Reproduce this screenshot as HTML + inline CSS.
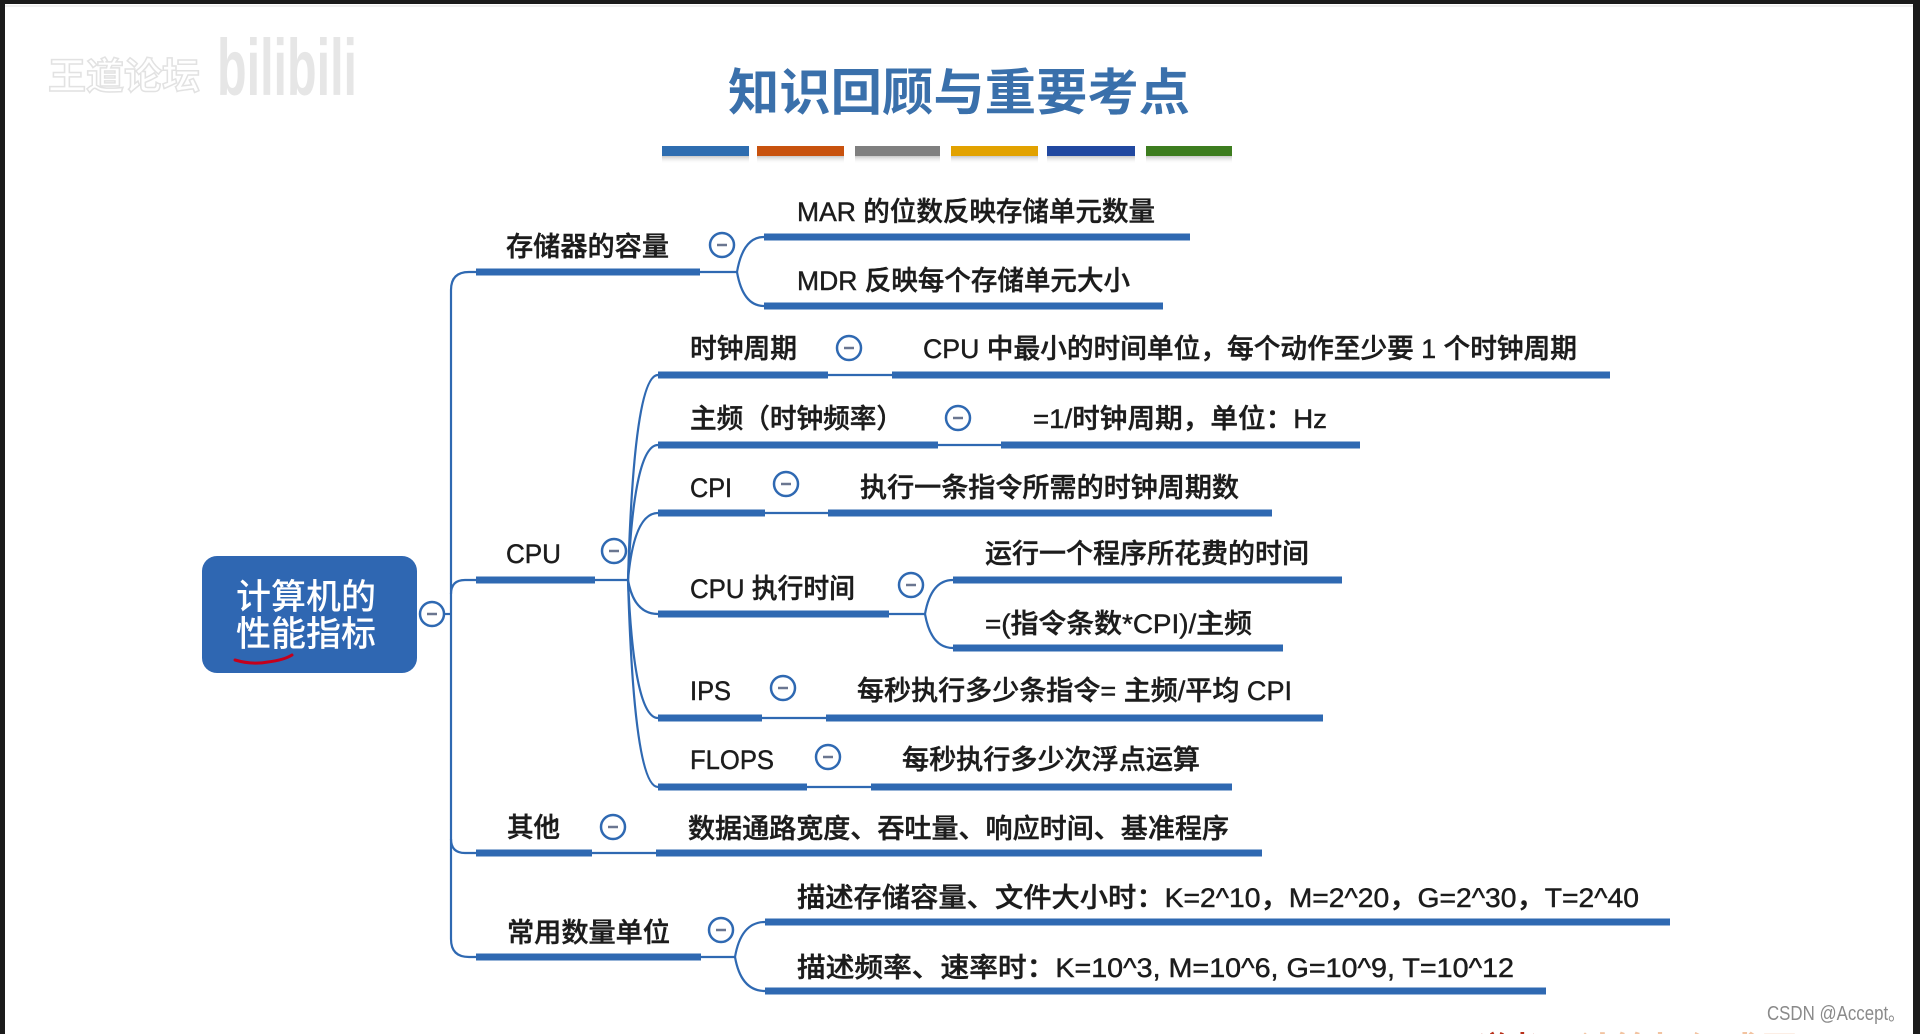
<!DOCTYPE html>
<html><head><meta charset="utf-8"><style>
html,body{margin:0;padding:0;background:#fff;}
svg{display:block;}
.t{font-family:"Liberation Sans","Noto Sans CJK SC",sans-serif;font-size:27px;font-weight:500;fill:#1c1c1c;stroke:#1c1c1c;stroke-width:0.45;}
.thick{stroke:#2f69b2;stroke-width:7;fill:none;}
.thin{stroke:#2f69b2;stroke-width:2.2;fill:none;}
.c{fill:#fff;stroke:#2f69b2;stroke-width:2.5;}
.m{stroke:#6a7690;stroke-width:2.5;}
</style></head><body>
<svg width="1920" height="1034" viewBox="0 0 1920 1034" xmlns="http://www.w3.org/2000/svg">
<rect x="0" y="0" width="1920" height="1034" fill="#fff"/>
<!-- frame -->
<rect x="0" y="0" width="1920" height="4" fill="#1b1b1b"/>
<rect x="0" y="0" width="5" height="1034" fill="#1b1b1b"/>
<rect x="1913" y="0" width="7" height="1034" fill="#1b1b1b"/>
<rect x="5" y="5" width="1908" height="2" fill="#f0f0f0"/>

<!-- watermark -->
<text x="48" y="89" font-family="'Noto Sans CJK SC',sans-serif" font-size="37" font-weight="700" fill="#fff" stroke="#e2e2e2" stroke-width="1.5" textLength="152" lengthAdjust="spacingAndGlyphs">王道论坛</text>
<text x="217" y="95" font-family="'Liberation Sans',sans-serif" font-size="80" font-weight="700" fill="#e6e6e6" textLength="140" lengthAdjust="spacingAndGlyphs">bilibili</text>

<!-- title -->
<text x="728" y="110" font-family="'Noto Sans CJK SC',sans-serif" font-size="50" font-weight="700" fill="#3a70ab" textLength="462" lengthAdjust="spacingAndGlyphs">知识回顾与重要考点</text>
<defs><linearGradient id="sh" x1="0" y1="0" x2="0" y2="1"><stop offset="0" stop-color="#9a9a9a" stop-opacity="0.7"/><stop offset="1" stop-color="#fff" stop-opacity="0"/></linearGradient></defs>
<g>
<rect x="662" y="155" width="87" height="9" fill="url(#sh)"/>
<rect x="757" y="155" width="87" height="9" fill="url(#sh)"/>
<rect x="855" y="155" width="85" height="9" fill="url(#sh)"/>
<rect x="951" y="155" width="87" height="9" fill="url(#sh)"/>
<rect x="1047" y="155" width="88" height="9" fill="url(#sh)"/>
<rect x="1146" y="155" width="86" height="9" fill="url(#sh)"/>
<rect x="662" y="146" width="87" height="10" fill="#2e6db0"/>
<rect x="757" y="146" width="87" height="10" fill="#c8520e"/>
<rect x="855" y="146" width="85" height="10" fill="#7f7f7f"/>
<rect x="951" y="146" width="87" height="10" fill="#e2a200"/>
<rect x="1047" y="146" width="88" height="10" fill="#2148a0"/>
<rect x="1146" y="146" width="86" height="10" fill="#3d7d1f"/>
</g>

<!-- root -->
<rect x="202" y="556" width="215" height="117" rx="15" ry="15" fill="#2f67b2"/>
<text x="306" y="609" text-anchor="middle" font-family="'Liberation Sans','Noto Sans CJK SC',sans-serif" font-size="35" font-weight="500" fill="#fff">计算机的</text>
<text x="306" y="646" text-anchor="middle" font-family="'Liberation Sans','Noto Sans CJK SC',sans-serif" font-size="35" font-weight="500" fill="#fff">性能指标</text>
<path d="M235 660 Q252 665 268 662 Q284 660 292 655" stroke="#c4001c" stroke-width="3" fill="none" stroke-linecap="round"/>

<!-- trunk -->
<line x1="444" y1="614" x2="451" y2="614" class="thin"/>
<path d="M476 272 L469 272 Q451 272 451 290 L451 939 Q451 957 469 957 L476 957" class="thin"/>
<path d="M451 594 Q451 580 465 580 L476 580" class="thin"/>
<path d="M451 839 Q451 853 465 853 L476 853" class="thin"/>

<!-- thin connectors -->
<g class="thin">
<path d="M700 272 L737 272"/>
<path d="M737 272 Q743 237 764 237"/>
<path d="M737 272 Q743 306 764 306"/>
<path d="M595 580 L628 580"/>
<path d="M628 580 Q634 375 658 375"/>
<path d="M628 580 Q634 445 658 445"/>
<path d="M628 580 Q634 513 658 513"/>
<path d="M628 580 Q634 614 658 614"/>
<path d="M628 580 Q634 718 658 718"/>
<path d="M628 580 Q634 787 658 787"/>
<path d="M828 375 L892 375"/>
<path d="M938 445 L1001 445"/>
<path d="M765 513 L828 513"/>
<path d="M889 614 L925 614"/>
<path d="M925 614 Q931 580 953 580"/>
<path d="M925 614 Q931 648 953 648"/>
<path d="M762 718 L826 718"/>
<path d="M807 787 L871 787"/>
<path d="M592 853 L656 853"/>
<path d="M701 957 L735 957"/>
<path d="M735 957 Q741 922 765 922"/>
<path d="M735 957 Q741 991 765 991"/>
</g>

<!-- thick underlines -->
<g class="thick">
<line x1="476" y1="272" x2="700" y2="272"/>
<line x1="476" y1="580" x2="595" y2="580"/>
<line x1="476" y1="853" x2="592" y2="853"/>
<line x1="476" y1="957" x2="701" y2="957"/>
<line x1="764" y1="237" x2="1190" y2="237"/>
<line x1="764" y1="306" x2="1163" y2="306"/>
<line x1="658" y1="375" x2="828" y2="375"/>
<line x1="892" y1="375" x2="1610" y2="375"/>
<line x1="658" y1="445" x2="938" y2="445"/>
<line x1="1001" y1="445" x2="1360" y2="445"/>
<line x1="658" y1="513" x2="765" y2="513"/>
<line x1="828" y1="513" x2="1272" y2="513"/>
<line x1="658" y1="614" x2="889" y2="614"/>
<line x1="953" y1="580" x2="1342" y2="580"/>
<line x1="953" y1="648" x2="1283" y2="648"/>
<line x1="658" y1="718" x2="762" y2="718"/>
<line x1="826" y1="718" x2="1323" y2="718"/>
<line x1="658" y1="787" x2="807" y2="787"/>
<line x1="871" y1="787" x2="1232" y2="787"/>
<line x1="656" y1="853" x2="1262" y2="853"/>
<line x1="765" y1="922" x2="1670" y2="922"/>
<line x1="765" y1="991" x2="1546" y2="991"/>
</g>

<!-- collapse circles -->
<g>
<circle class="c" cx="432" cy="614" r="12"/><line class="m" x1="427" y1="614" x2="437" y2="614"/>
<circle class="c" cx="722" cy="245" r="12"/><line class="m" x1="717" y1="245" x2="727" y2="245"/>
<circle class="c" cx="614" cy="551" r="12"/><line class="m" x1="609" y1="551" x2="619" y2="551"/>
<circle class="c" cx="613" cy="827" r="12"/><line class="m" x1="608" y1="827" x2="618" y2="827"/>
<circle class="c" cx="721" cy="930" r="12"/><line class="m" x1="716" y1="930" x2="726" y2="930"/>
<circle class="c" cx="849" cy="348" r="12"/><line class="m" x1="844" y1="348" x2="854" y2="348"/>
<circle class="c" cx="958" cy="418" r="12"/><line class="m" x1="953" y1="418" x2="963" y2="418"/>
<circle class="c" cx="786" cy="484" r="12"/><line class="m" x1="781" y1="484" x2="791" y2="484"/>
<circle class="c" cx="911" cy="585" r="12"/><line class="m" x1="906" y1="585" x2="916" y2="585"/>
<circle class="c" cx="783" cy="688" r="12"/><line class="m" x1="778" y1="688" x2="788" y2="688"/>
<circle class="c" cx="828" cy="757" r="12"/><line class="m" x1="823" y1="757" x2="833" y2="757"/>
</g>

<!-- node texts -->
<g class="t">
<text x="506" y="256" textLength="163" lengthAdjust="spacingAndGlyphs">存储器的容量</text>
<text x="506" y="563" textLength="55" lengthAdjust="spacingAndGlyphs">CPU</text>
<text x="507" y="837" textLength="53" lengthAdjust="spacingAndGlyphs">其他</text>
<text x="507" y="942" textLength="163" lengthAdjust="spacingAndGlyphs">常用数量单位</text>

<text x="797" y="221" textLength="358" lengthAdjust="spacingAndGlyphs">MAR 的位数反映存储单元数量</text>
<text x="797" y="290" textLength="333" lengthAdjust="spacingAndGlyphs">MDR 反映每个存储单元大小</text>

<text x="690" y="358" textLength="107" lengthAdjust="spacingAndGlyphs">时钟周期</text>
<text x="923" y="358" textLength="654" lengthAdjust="spacingAndGlyphs">CPU 中最小的时间单位，每个动作至少要 1 个时钟周期</text>

<text x="690" y="428" textLength="213" lengthAdjust="spacingAndGlyphs">主频（时钟频率）</text>
<text x="1033" y="428" textLength="294" lengthAdjust="spacingAndGlyphs">=1/时钟周期，单位：Hz</text>

<text x="690" y="497" textLength="42" lengthAdjust="spacingAndGlyphs">CPI</text>
<text x="860" y="497" textLength="379" lengthAdjust="spacingAndGlyphs">执行一条指令所需的时钟周期数</text>

<text x="690" y="598" textLength="165" lengthAdjust="spacingAndGlyphs">CPU 执行时间</text>
<text x="985" y="563" textLength="324" lengthAdjust="spacingAndGlyphs">运行一个程序所花费的时间</text>
<text x="985" y="633" textLength="267" lengthAdjust="spacingAndGlyphs">=(指令条数*CPI)/主频</text>

<text x="690" y="700" textLength="41" lengthAdjust="spacingAndGlyphs">IPS</text>
<text x="857" y="700" textLength="435" lengthAdjust="spacingAndGlyphs">每秒执行多少条指令= 主频/平均 CPI</text>

<text x="690" y="769" textLength="84" lengthAdjust="spacingAndGlyphs">FLOPS</text>
<text x="902" y="769" textLength="298" lengthAdjust="spacingAndGlyphs">每秒执行多少次浮点运算</text>

<text x="688" y="838" textLength="541" lengthAdjust="spacingAndGlyphs">数据通路宽度、吞吐量、响应时间、基准程序</text>

<text x="797" y="907" textLength="842" lengthAdjust="spacingAndGlyphs">描述存储容量、文件大小时：K=2^10，M=2^20，G=2^30，T=2^40</text>
<text x="797" y="977" textLength="717" lengthAdjust="spacingAndGlyphs">描述频率、速率时：K=10^3, M=10^6, G=10^9, T=10^12</text>
</g>

<!-- bottom-right watermark & clipped red text -->
<text x="1767" y="1020" font-family="'Liberation Sans','Noto Sans CJK SC',sans-serif" font-size="20" fill="#8a8a8a" textLength="138" lengthAdjust="spacingAndGlyphs">CSDN @Accept。</text>
<text x="1447" y="1066" font-family="'Noto Sans CJK SC',sans-serif" font-size="40" font-weight="700" fill="#b8301a" textLength="123" lengthAdjust="spacingAndGlyphs">王道考研</text>
<text x="1578" y="1066" font-family="'Noto Sans CJK SC',sans-serif" font-size="40" font-weight="700" fill="#f2c3a0" textLength="255" lengthAdjust="spacingAndGlyphs">计算机组成原理</text>
</svg>
</body></html>
